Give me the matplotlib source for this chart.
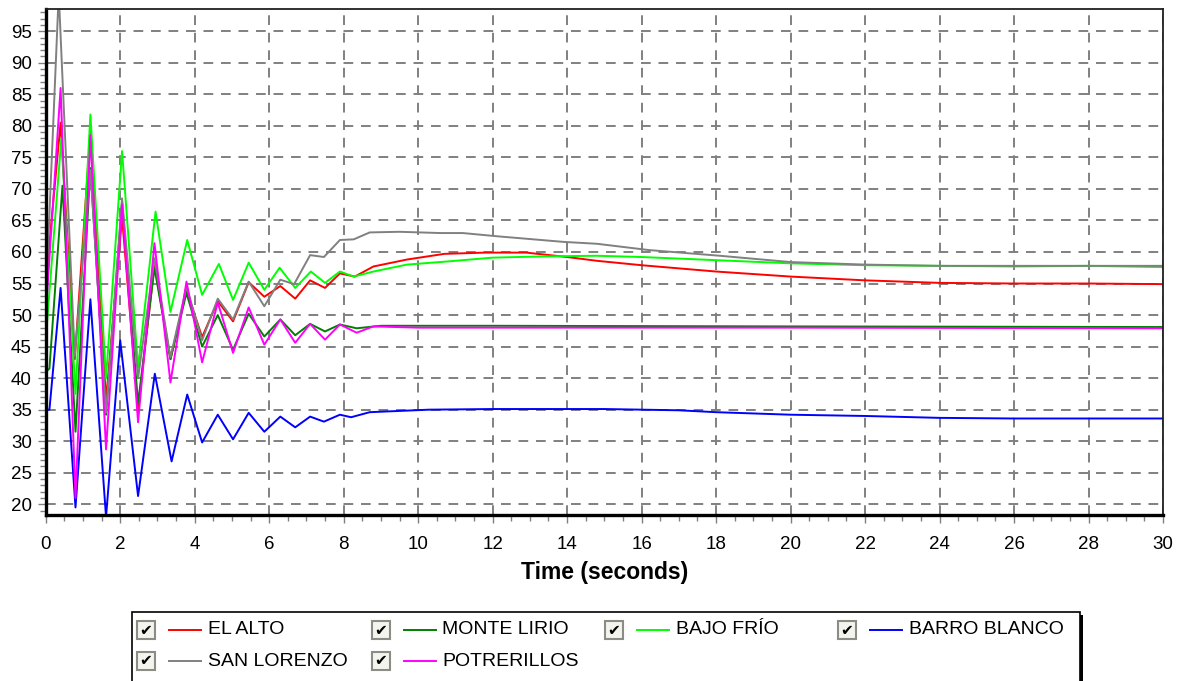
import matplotlib
matplotlib.use("Agg")
import matplotlib.pyplot as plt
from matplotlib.patches import Rectangle
from matplotlib.lines import Line2D
from matplotlib.ticker import MultipleLocator

plt.rcParams['font.family'] = ['Liberation Sans', 'DejaVu Sans']

# series (time in s, value)
el_alto_t = [0, 0.4, 0.78, 1.2, 1.62, 2.05, 2.48, 2.92, 3.35, 3.78, 4.2, 4.62, 5.03, 5.45,
             5.87, 6.3, 6.7, 7.1, 7.5, 7.9, 8.3, 8.8, 9.7, 10.7, 11.8, 12.9, 14, 14.8,
             16, 18, 20, 22, 24, 26, 28, 30]
el_alto_v = [55, 80.5, 43, 79, 36.5, 65.5, 35, 58, 43, 54, 46.5, 52.2, 49, 55.2,
             52.9, 54.6, 52.6, 55.5, 54.3, 56.6, 56.1, 57.7, 58.8, 59.7, 59.9, 59.9, 59.2, 58.6,
             57.9, 56.9, 56.1, 55.5, 55.1, 55.0, 55.0, 54.9]

monte_lirio_t = [0, 0.1, 0.45, 0.8, 1.2, 1.62, 2.05, 2.48, 2.92, 3.35, 3.78, 4.2, 4.62, 5.03,
                 5.45, 5.87, 6.3, 6.7, 7.1, 7.5, 7.9, 8.35, 9, 12, 20, 30]
monte_lirio_v = [41, 41.5, 70.5, 31.5, 73.3, 34.2, 68, 36, 57.5, 43, 53.5, 45, 50, 44.5,
                 50.2, 46.6, 49.3, 46.8, 48.6, 47.4, 48.5, 47.9, 48.3, 48.3, 48.2, 48.1]

bajo_frio_t = [0, 0.42, 0.8, 1.2, 1.62, 2.05, 2.48, 2.95, 3.35, 3.8, 4.2, 4.65, 5.03, 5.45,
               5.87, 6.28, 6.7, 7.12, 7.5, 7.9, 8.27, 8.8, 9.7, 10.8, 12, 13.4, 14.8, 16,
               18, 20, 22, 24, 26, 28, 30]
bajo_frio_v = [46, 78, 37.5, 81.8, 40, 76, 41.7, 66.4, 50.5, 61.9, 53.2, 58.1, 52.4, 58.3,
               54, 57.5, 54.3, 56.9, 55.1, 56.9, 56.1, 56.9, 58, 58.5, 59.1, 59.3, 59.4, 59.2,
               58.7, 58.2, 57.9, 57.8, 57.7, 57.8, 57.6]

barro_blanco_t = [0, 0.1, 0.4, 0.8, 1.2, 1.62, 2.0, 2.48, 2.93, 3.38, 3.8, 4.2, 4.62, 5.03,
                  5.45, 5.87, 6.3, 6.7, 7.1, 7.47, 7.9, 8.2, 8.7, 9.5, 10.3, 12, 15, 17,
                  18, 20, 22, 24, 26, 30]
barro_blanco_v = [35, 35, 54.3, 19.5, 52.5, 18, 46, 21.3, 40.7, 26.8, 37.4, 29.8, 34.2, 30.3,
                  34.5, 31.5, 33.9, 32.2, 33.9, 33.1, 34.2, 33.8, 34.6, 34.8, 35.0, 35.1, 35.1, 34.9,
                  34.6, 34.2, 34.0, 33.7, 33.6, 33.6]

san_lorenzo_t = [0, 0.35, 0.78, 1.2, 1.62, 2.05, 2.48, 2.92, 3.35, 3.78, 4.2, 4.62, 5.03, 5.45,
                 5.87, 6.3, 6.67, 7.1, 7.47, 7.9, 8.27, 8.7, 9.5, 10.6, 11.2, 12.1, 13.9, 14.8,
                 16.2, 18.1, 20, 22, 24, 26, 28, 30]
san_lorenzo_v = [52, 101, 43.5, 73, 34.5, 68.5, 40, 59, 43.3, 54.5, 46, 52.6, 49.3, 55.3,
                 51.4, 55.6, 54.9, 59.5, 59.2, 61.9, 62, 63.1, 63.2, 63, 63, 62.5, 61.6, 61.3,
                 60.3, 59.4, 58.4, 58, 57.8, 57.8, 57.8, 57.8]

potrerillos_t = [0, 0.4, 0.8, 1.2, 1.62, 2.05, 2.48, 2.92, 3.35, 3.78, 4.2, 4.62, 5.03, 5.45,
                 5.87, 6.3, 6.7, 7.1, 7.5, 7.9, 8.35, 8.8, 10, 20, 30]
potrerillos_v = [50, 86, 21, 78.5, 28.7, 67.5, 33, 61.4, 39.3, 55.3, 42.5, 52, 44, 51.2,
                 45.3, 49.3, 45.6, 48.6, 46.1, 48.5, 47.2, 48.2, 48, 48, 47.9]

names = ["EL ALTO", "MONTE LIRIO", "BAJO FRÍO", "BARRO BLANCO", "SAN LORENZO", "POTRERILLOS"]
colors = ["#ff0000", "#008000", "#00ff00", "#0000ff", "#808080", "#ff00ff"]
series = [(el_alto_t, el_alto_v), (monte_lirio_t, monte_lirio_v), (bajo_frio_t, bajo_frio_v),
          (barro_blanco_t, barro_blanco_v), (san_lorenzo_t, san_lorenzo_v),
          (potrerillos_t, potrerillos_v)]

W, H = 1179, 681
fig = plt.figure(figsize=(W / 100, H / 100), dpi=100)
fig.patch.set_facecolor("white")
ax = fig.add_axes([45.7 / W, 1 - 515 / H, (1163 - 45.7) / W, (515 - 8.5) / H])

for (t, v), c in zip(series, colors):
    ax.plot(t, v, color=c, lw=1.4)

ax.set_xlim(0, 30)
ax.set_ylim(18.3, 98.6)
ax.xaxis.set_major_locator(MultipleLocator(2))
ax.xaxis.set_minor_locator(MultipleLocator(0.5))
ax.yaxis.set_major_locator(MultipleLocator(5))
ax.yaxis.set_minor_locator(MultipleLocator(1))
ax.grid(True, which="major", color="#808080", linestyle=(0, (5, 4)), lw=1.4)
ax.tick_params(axis="both", which="major", labelsize=13.5, length=6, width=1, color="#808080")
ax.tick_params(axis="both", which="minor", length=4, width=1, color="#808080")
ax.tick_params(axis="y", pad=4)
ax.tick_params(axis="x", pad=9)
for s in ["left", "bottom"]:
    ax.spines[s].set_linewidth(2.4)
    ax.spines[s].set_color("black")
for s in ["top", "right"]:
    ax.spines[s].set_linewidth(1.3)
    ax.spines[s].set_color("#202020")
ax.set_xlabel("Time (seconds)", fontsize=16.5, fontweight="bold", labelpad=6)


def fx(px):
    return px / W


def fy(py):
    return 1 - py / H


# legend box with shadow
fig.patches.append(Rectangle((fx(135), fy(690)), fx(1083) - fx(135), fy(615) - fy(690),
                             transform=fig.transFigure, facecolor="black", edgecolor="none"))
fig.patches.append(Rectangle((fx(132), fy(690)), fx(1080) - fx(132), fy(611.5) - fy(690),
                             transform=fig.transFigure, facecolor="white", edgecolor="black", lw=1.2))

col_x = [137, 371.5, 605, 838]
row_y = [630, 661]
for i, (name, c) in enumerate(zip(names, colors)):
    cx = col_x[i % 4]
    cy = row_y[i // 4]
    fig.patches.append(Rectangle((fx(cx), fy(cy + 9)), fx(18), 18 / H,
                                 transform=fig.transFigure, facecolor="#f4f4ee",
                                 edgecolor="#8c8c84", lw=1.5))
    fig.text(fx(cx + 9), fy(cy), "✔", family=["DejaVu Sans"], fontsize=11, fontweight="bold",
             ha="center", va="center", color="black")
    fig.lines.append(Line2D([fx(cx + 32), fx(cx + 64)], [fy(cy), fy(cy)],
                            transform=fig.transFigure, color=c, lw=1.4))
    fig.text(fx(cx + 71), fy(cy), name, fontsize=14, ha="left", va="center")

fig.savefig("out.png", dpi=100)
